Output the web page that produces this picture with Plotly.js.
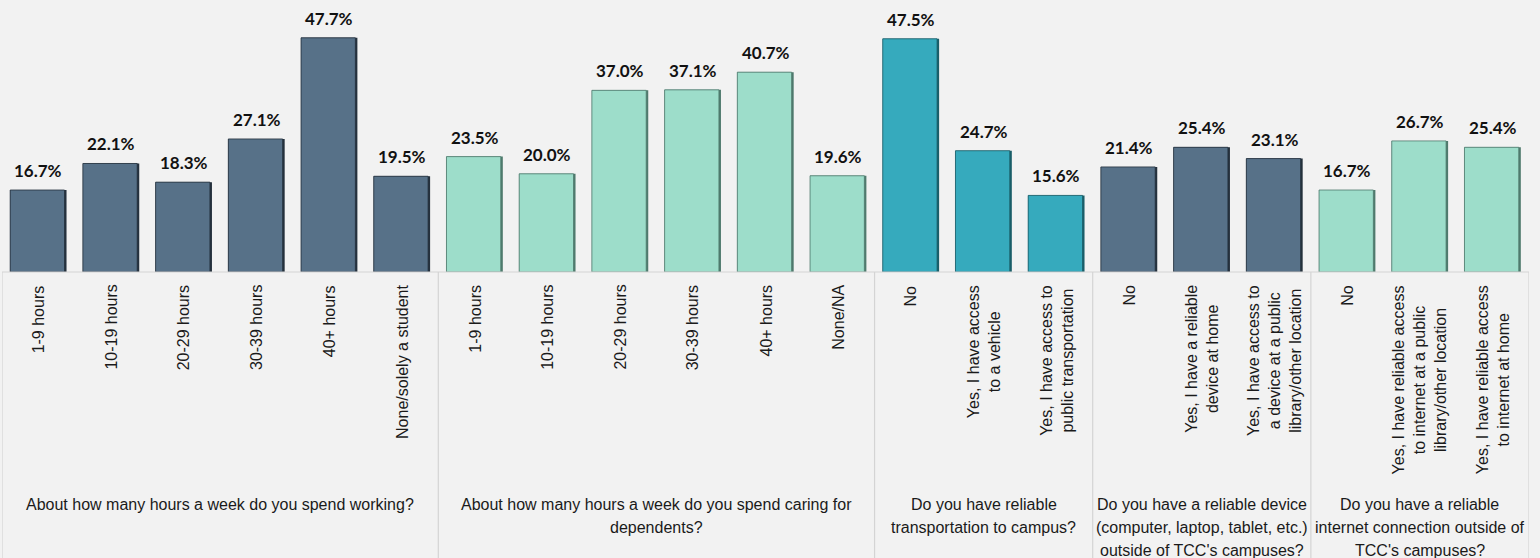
<!DOCTYPE html>
<html>
<head>
<meta charset="utf-8">
<script src="https://cdn.plot.ly/plotly-3.0.1.min.js"></script>
<style>html,body{margin:0;padding:0;background:#F2F2F2;}#chart{width:1540px;height:558px;}</style>
</head>
<body>
<div id="chart"></div>
<script>
// ---- data ----
const categories = [
  '1-9 hours','10-19 hours','20-29 hours','30-39 hours','40+ hours','None/solely a student',
  '1-9 hours','10-19 hours','20-29 hours','30-39 hours','40+ hours','None/NA',
  'No','Yes, I have access<br>to a vehicle','Yes, I have access to<br>public transportation',
  'No','Yes, I have a reliable<br>device at home','Yes, I have access to<br>a device at a public<br>library/other location',
  'No','Yes, I have reliable access<br>to internet at a public<br>library/other location','Yes, I have reliable access<br>to internet at home'
];
const values = [
  16.7, 22.1, 18.3, 27.1, 47.7, 19.5,
  23.5, 20.0, 37.0, 37.1, 40.7, 19.6,
  47.5, 24.7, 15.6,
  21.4, 25.4, 23.1,
  16.7, 26.7, 25.4
];
const groupOf = [0,0,0,0,0,0, 1,1,1,1,1,1, 2,2,2, 3,3,3, 4,4,4];
const groupTitles = [
  'About how many hours a week do you spend working?',
  'About how many hours a week do you spend caring for<br>dependents?',
  'Do you have reliable<br>transportation to campus?',
  'Do you have a reliable device<br>(computer, laptop, tablet, etc.)<br>outside of TCC\'s campuses?',
  'Do you have a reliable<br>internet connection outside of<br>TCC\'s campuses?'
];
const groupColors = ['#577188', '#9DDDCA', '#36AABD', '#577188', '#9DDDCA'];
const groupEdge   = ['#25313D', '#4F7A6D', '#1A5E69', '#25313D', '#4F7A6D'];

// ---- layout helpers ----
const W = 1540, H = 558;
const mTop = 0, mBottom = 286, mLeft = 2, mRight = 11;
const plotH = H - mTop - mBottom;
const py = p => (plotH + mTop - p) / plotH; // pixel y -> paper y

const xs = categories.map((c, i) => i);
const barW = 0.775;

const shadow = {
  type: 'bar', x: xs, y: values, width: barW,
  marker: {color: groupOf.map(g => groupEdge[g]), line: {width: 0}},
  hoverinfo: 'none', showlegend: false
};
const trace = {
  type: 'bar', x: xs, y: values, width: barW - 0.028, offset: -barW / 2,
  marker: {
    color: groupOf.map(g => groupColors[g]),
    line: {color: groupOf.map(g => groupEdge[g]), width: 0.8}
  },
  hoverinfo: 'none', showlegend: false
};

const labelFont = {family: 'Liberation Sans, Arial, sans-serif', size: 16, color: '#1a1a1a'};
const annotations = [];
// value labels
values.forEach((v, i) => {
  annotations.push({
    x: i, y: v, xref: 'x', yref: 'y',
    text: v.toFixed(1) + '%', showarrow: false,
    xanchor: 'center', yanchor: 'bottom', yshift: 7,
    font: {family: 'Lato, sans-serif', size: 17, color: '#111111', weight: 'bold'}
  });
});
// rotated category labels
categories.forEach((c, i) => {
  annotations.push({
    x: i, y: py(283), xref: 'x', yref: 'paper',
    text: c, showarrow: false, textangle: -90,
    xanchor: 'center', yanchor: 'top', align: 'center',
    font: labelFont
  });
});
// group titles (one annotation per line for reference line pitch)
const bounds = [];
let start = 0;
for (let g = 0; g < groupTitles.length; g++) {
  let end = start;
  while (end + 1 < groupOf.length && groupOf[end + 1] === g) end++;
  bounds.push([start - 0.5, end + 0.5]);
  groupTitles[g].split('<br>').forEach((line, k) => {
    annotations.push({
      x: (start + end) / 2, y: py(505 + k * 22.5), xref: 'x', yref: 'paper',
      text: line, showarrow: false,
      xanchor: 'center', yanchor: 'middle', align: 'center',
      font: labelFont
    });
  });
  start = end + 1;
}

const shapes = [];
const sepColor = '#D4D4D4';
const xEdges = [bounds[0][0]].concat(bounds.map(b => b[1]));
xEdges.forEach(x => {
  shapes.push({type: 'line', xref: 'x', yref: 'paper', x0: x, x1: x, y0: 0, y1: py(H),
    line: {color: sepColor, width: 1.2}});
});
shapes.push({type: 'line', xref: 'paper', yref: 'paper', x0: 0, x1: 1, y0: 0, y1: 0,
  line: {color: sepColor, width: 1.2}});

const layout = {
  width: W, height: H,
  margin: {l: mLeft, r: mRight, t: mTop, b: mBottom, pad: 0},
  paper_bgcolor: '#F2F2F2', plot_bgcolor: '#F2F2F2',
  barmode: 'overlay',
  xaxis: {range: [-0.5, categories.length - 0.5], showticklabels: false, showgrid: false,
          zeroline: false, showline: false, ticks: '', fixedrange: true},
  yaxis: {range: [0, 55.4], showticklabels: false, showgrid: false, zeroline: false,
          showline: false, ticks: '', fixedrange: true},
  annotations: annotations,
  shapes: shapes,
  showlegend: false
};

Plotly.newPlot('chart', [shadow, trace], layout, {displayModeBar: false, staticPlot: true});
</script>
</body>
</html>
